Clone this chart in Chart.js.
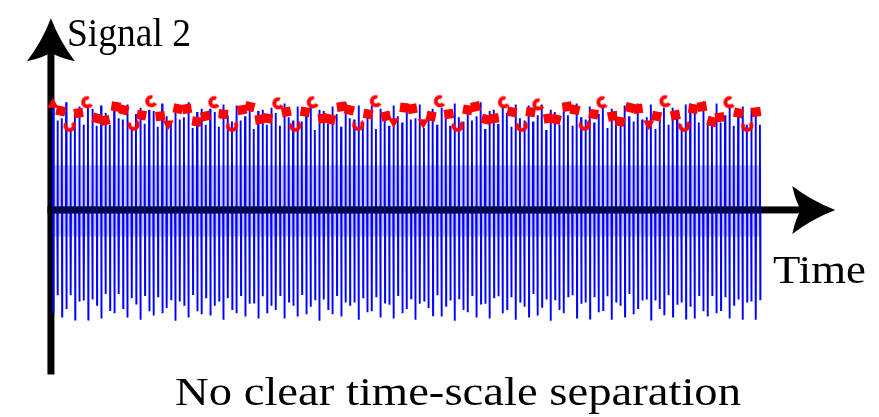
<!DOCTYPE html>
<html>
<head>
<meta charset="utf-8">
<script src="https://cdn.jsdelivr.net/npm/chart.js@4/dist/chart.umd.min.js"></script>
<style>
  html, body { margin: 0; padding: 0; background: #ffffff; }
  canvas { display: block; }
</style>
</head>
<body>
<canvas id="chart" width="879" height="417"></canvas>
<script>
// Fast oscillation: one spike per time unit, maximum and minimum of each spike.
const peaks = [
  1.00,0.84,0.86,1.01,0.75,0.91,0.97,0.80,0.96,0.95,0.79,0.98,0.91,0.80,0.97,0.86,0.85,
  0.99,0.76,0.90,0.96,0.81,0.94,0.93,0.78,1.00,0.88,0.82,0.97,0.85,0.87,1.01,0.77,0.92,
  0.95,0.80,0.95,0.92,0.78,0.99,0.89,0.83,0.98,0.84,0.88,1.00,0.76,0.93,0.94,0.80,0.96,
  0.91,0.79,1.00,0.87,0.84,0.97,0.83,0.89,0.99,0.75,0.94,0.93,0.81,0.97,0.90,0.78,1.01,
  0.86,0.85,0.98,0.82,0.90,0.98,0.76,0.95,0.92,0.79,0.98,0.88,0.82,1.00,0.85,0.86,0.99,
  0.77,0.92,0.95,0.80,0.96,0.90,0.79,1.00,0.87,0.83,0.97,0.84,0.88,1.01,0.76,0.93,0.94,
  0.81,0.97,0.91,0.78,0.99,0.86,0.84,0.98,0.83,0.89,0.99,0.75,0.94,0.92,0.80,0.97,0.89,
  0.79,1.00,0.87,0.85,0.97,0.82,0.90,0.98,0.77,0.95,0.93,0.79,0.98,0.88,0.83,1.00,0.85,
  0.87,0.99,0.76,0.92,0.96,0.80,0.96,0.91,0.78,0.99,
  1.00,0.91,0.82,1.02,0.80,0.86,1.00,0.82,0.89,0.97,0.79,0.91,0.97,0.80,0.96,0.91,0.80
];
const troughs = [
  -0.97,-0.80,-1.00,-0.93,-0.80,-1.03,-0.86,-0.85,-1.03,-0.84,-0.89,-1.02,-0.79,-0.94,-0.97,-0.79,-0.92,
  -1.01,-0.83,-0.88,-1.03,-0.80,-0.95,-0.99,-0.81,-0.97,-0.92,-0.84,-1.04,-0.86,-0.89,-1.01,-0.79,-0.95,
  -0.98,-0.82,-0.99,-0.90,-0.85,-1.03,-0.83,-0.93,-0.97,-0.80,-1.00,-0.88,-0.87,-1.02,-0.81,-0.96,-0.90,
  -0.94,-0.80,-1.02,-0.86,-0.90,-1.00,-0.79,-0.98,-0.91,-0.84,-1.04,-0.84,-0.93,-0.98,-0.80,-1.00,-0.87,
  -0.89,-0.87,-1.03,-0.82,-0.96,-0.95,-0.81,-1.01,-0.87,-0.89,-1.02,-0.80,-0.97,-0.93,-0.83,-1.03,-0.88,
  -0.85,-0.92,-0.99,-0.80,-1.00,-0.90,-0.85,-1.04,-0.83,-0.94,-0.96,-0.80,-1.01,-0.88,-0.88,-1.02,-0.82,
  -0.81,-0.97,-0.93,-0.82,-1.03,-0.86,-0.91,-1.00,-0.79,-0.99,-0.91,-0.84,-1.04,-0.84,-0.94,-0.97,-0.81,
  -0.80,-1.01,-0.88,-0.87,-1.02,-0.82,-0.96,-0.94,-0.81,-1.03,-0.86,-0.90,-1.00,-0.79,-0.98,-0.92,-0.85,
  -0.84,-1.03,-0.85,-0.93,-0.98,-0.80,-1.00,-0.89,-0.87,-1.02,
  -0.91,-1.02,-0.80,-0.95,-1.00,-0.80,-0.97,-0.94,-0.82,-1.02,-0.89,-0.84,-1.03,-0.86,-0.86,-1.03,-0.84
];

// Sampled maxima (red markers): time and value.
const markerTimes = [
  0.00,1.81,3.84,5.87,7.90,10.16,11.96,14.45,16.25,18.51,20.32,22.57,24.60,26.41,28.67,30.70,
  32.96,34.99,37.02,39.05,41.08,43.34,45.15,47.40,49.21,51.69,53.50,55.53,57.79,59.59,61.85,63.66,
  66.14,67.95,69.98,72.23,74.04,76.30,78.10,80.59,82.39,84.88,86.68,88.71,90.74,92.78,95.03,96.84,
  99.32,101.13,103.39,105.19,107.45,109.48,111.29,113.54,115.35,117.83,119.64,121.90,123.93,125.96,
  128.22,130.02,132.28,134.09,136.57,138.37,140.41,142.66,144.70,146.73,148.76,151.02,152.82,155.08,
  157.11,159.14,161.17
];
const markerValues = [
  0.99,0.93,0.79,0.91,1.01,0.86,0.84,0.97,0.94,0.80,0.89,1.02,0.88,0.81,0.95,0.95,
  0.83,0.88,1.01,0.90,0.79,0.94,0.97,0.85,0.86,1.00,0.92,0.79,0.92,1.01,0.86,0.85,
  0.97,0.94,0.80,0.90,1.02,0.88,0.83,0.96,0.95,0.82,0.88,1.02,0.90,0.79,0.94,0.97,
  0.85,0.86,1.01,0.92,0.79,0.92,0.99,0.86,0.85,0.97,0.94,0.80,0.90,1.01,
  0.88,0.83,0.96,0.95,0.81,0.88,1.02,0.89,0.79,0.95,0.97,0.83,0.87,1.01,
  0.91,0.79,0.92
];
// Marker glyph per sample: T up-triangle, V down-triangle, S square, C open hook, U cup
const markerShapes = [
  'T','S','U','S','C','S','S','S','S','U','S','C','S','V','S','S',
  'S','S','C','S','U','S','S','S','S','C','S','U','S','C','S','S',
  'S','S','U','S','C','S','V','S','S','V','S','C','S','U','S','S',
  'S','S','C','S','U','S','C','S','S','S','S','U','S','C',
  'S','S','S','S','V','S','C','S','U','S','S','S','S','C',
  'S','U','S'
];
const markerTilt = [
  0,12,-10,-8,-25,15,-12,8,14,-15,10,-30,-6,0,12,-10,
  9,-14,-20,6,-12,-10,14,-8,10,-25,-12,-15,9,-30,-10,12,
  -8,14,-12,10,-25,-14,0,8,-10,0,12,-20,-8,-15,10,-12,
  14,-9,-25,10,-12,8,-30,-10,14,-8,12,-15,10,-20,
  -12,9,14,-8,0,10,-25,-12,-15,8,-10,14,-9,-20,
  12,-12,-8
];

// Light band around the axis produced by the densely packed spikes.
const bandTop = 0.42;
const bandBottom = -0.25;

const yTitle = 'Signal 2';
const xTitle = 'Time';
const caption = 'No clear time-scale separation';

// ---- build the datasets ----
const nSpikes = Math.min(peaks.length, troughs.length);
const signal = [];
for (let i = 0; i < nSpikes; i++) {
  signal.push({ x: i, y: 0 });
  signal.push({ x: i + 0.03, y: peaks[i] });
  signal.push({ x: i + 0.12, y: troughs[i] });
  signal.push({ x: i + 0.15, y: 0 });
}
const lastT = nSpikes - 1 + 0.15;
const band = [{ x: 0, y: bandTop }, { x: lastT, y: bandTop }];
const markers = markerTimes.map((t, i) => ({ x: t, y: markerValues[i] }));

function hookGlyph() {
  const c = document.createElement('canvas');
  c.width = 15; c.height = 15;
  const g = c.getContext('2d');
  g.strokeStyle = '#ff0000';
  g.lineWidth = 3.8;
  g.beginPath();
  g.arc(7.5, 7.5, 4.2, 0.3 * Math.PI, 1.75 * Math.PI);
  g.stroke();
  return c;
}
const hook = hookGlyph();
const pointStyles = markerShapes.map(s => s === 'S' ? 'rect' : (s === 'T' || s === 'V') ? 'triangle' : hook);
const pointRot = markerShapes.map((s, i) => {
  if (s === 'V') return 180;
  if (s === 'U') return -90 + markerTilt[i];
  return markerTilt[i];
});
const pointRad = markerShapes.map(s => s === 'S' ? 6.6 : 6.5);

// ---- axes with arrow heads and labels ----
function arrowHead(ctx, tipX, tipY, angle) {
  const L = 43, hw = 24, notch = 9;
  ctx.save();
  ctx.translate(tipX, tipY);
  ctx.rotate(angle);
  ctx.beginPath();
  ctx.moveTo(0, 0);
  ctx.quadraticCurveTo(-L * 0.55, -hw * 0.38, -L, -hw);
  ctx.quadraticCurveTo(-L + notch * 0.4, -hw * 0.3, -L + notch, 0);
  ctx.quadraticCurveTo(-L + notch * 0.4, hw * 0.3, -L, hw);
  ctx.quadraticCurveTo(-L * 0.55, hw * 0.38, 0, 0);
  ctx.closePath();
  ctx.fillStyle = '#000';
  ctx.fill();
  ctx.restore();
}

function fitText(ctx, text, left, baseline, size, width) {
  ctx.save();
  ctx.font = size + 'px "Liberation Serif", "DejaVu Serif", serif';
  ctx.textBaseline = 'alphabetic';
  ctx.textAlign = 'left';
  const w = ctx.measureText(text).width;
  ctx.translate(left, baseline);
  ctx.scale(width / w, 1);
  ctx.fillStyle = '#000';
  ctx.fillText(text, 0, 0);
  ctx.restore();
}

const axesPlugin = {
  id: 'arrowAxes',
  beforeDatasetsDraw(chart) {
    const { ctx, scales: { x, y } } = chart;
    const ax = x.getPixelForValue(-0.45);
    const ay = y.getPixelForValue(0);
    const yBottom = y.getPixelForValue(-1.545);
    const yTip = y.getPixelForValue(1.8);
    const xTip = x.getPixelForValue(179.3);
    ctx.save();
    ctx.fillStyle = '#000';
    ctx.fillRect(ax - 3.5, yTip + 30, 7, yBottom - yTip - 30);
    arrowHead(ctx, ax, yTip, -Math.PI / 2);
    ctx.fillRect(ax - 3.5, ay - 3.5, xTip - 30 - ax + 3.5, 7);
    arrowHead(ctx, xTip, ay, 0);
    ctx.restore();
  },
  afterDatasetsDraw(chart) {
    const { ctx, scales: { x, y } } = chart;
    const ay = y.getPixelForValue(0);
    const x0 = x.getPixelForValue(0) - 1;
    const x1 = x.getPixelForValue(lastT) + 1;
    ctx.save();
    ctx.fillStyle = 'rgba(0,0,0,0.62)';
    ctx.fillRect(x0, ay - 3.5, x1 - x0, 7);
    ctx.restore();
  },
  afterDraw(chart) {
    const { ctx } = chart;
    fitText(ctx, yTitle, 67, 46, 39, 124);
    fitText(ctx, xTitle, 773, 283, 41, 93);
    fitText(ctx, caption, 175, 405, 41, 566);
  }
};

// pixel = 47 + 4.43 * t ; pixel = 210 - 110 * v
new Chart(document.getElementById('chart'), {
  type: 'scatter',
  data: {
    datasets: [
      {
        label: 'samples',
        data: markers,
        order: 0,
        pointStyle: pointStyles,
        rotation: pointRot,
        pointRadius: pointRad,
        backgroundColor: '#ff0000',
        borderColor: '#ff0000',
        borderWidth: 0,
        showLine: false
      },
      {
        label: 'signal',
        data: signal,
        order: 1,
        showLine: true,
        borderColor: '#0000ff',
        borderWidth: 1.9,
        pointRadius: 0,
        tension: 0,
        fill: false
      },
      {
        label: 'band',
        data: band,
        order: 2,
        showLine: true,
        borderWidth: 0,
        borderColor: 'rgba(0,0,0,0)',
        pointRadius: 0,
        fill: { value: bandBottom },
        backgroundColor: 'rgba(90,90,255,0.33)'
      }
    ]
  },
  options: {
    responsive: false,
    animation: false,
    devicePixelRatio: 1,
    layout: { padding: 0 },
    scales: {
      x: { type: 'linear', min: -10.61, max: 187.81, display: false },
      y: { type: 'linear', min: -1.882, max: 1.909, display: false }
    },
    plugins: {
      legend: { display: false },
      tooltip: { enabled: false },
      title: { display: false }
    },
    elements: { line: { borderJoinStyle: 'miter' } }
  },
  plugins: [axesPlugin]
});
</script>
</body>
</html>
